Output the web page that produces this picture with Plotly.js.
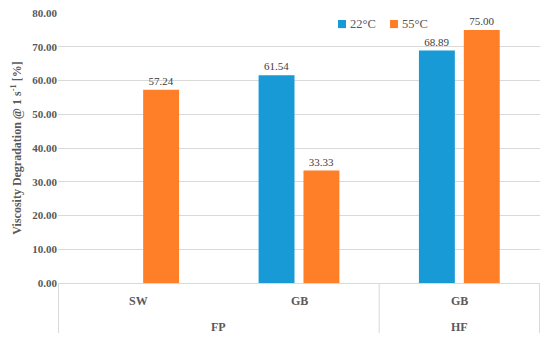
<!DOCTYPE html>
<html>
<head>
<meta charset="utf-8">
<script src="https://cdn.plot.ly/plotly-3.0.1.min.js"></script>
<style>html,body{margin:0;padding:0;background:#fff;}#chart{width:550px;height:349px;}</style>
</head>
<body>
<div id="chart"></div>
<script>
var groups = ['FP', 'FP', 'HF'];
var categories = ['SW', 'GB', 'GB'];
var series22 = [null, 61.54, 68.89];
var series55 = [57.24, 33.33, 75.00];
var seriesNames = ['22°C', '55°C'];
var seriesColors = ['#189ad6', '#fe7f27'];

var fontFam = '"Liberation Serif", "DejaVu Serif", serif';
var txtColor = '#595959';
var lineColor = '#d9d9d9';

var traces = [series22, series55].map(function (vals, i) {
  return {type: 'bar', name: seriesNames[i], x: [groups, categories], y: vals,
    marker: {color: seriesColors[i]}, texttemplate: '%{y:.2f}', textposition: 'outside',
    textfont: {family: fontFam, size: 11, color: '#404040'}, cliponaxis: false,
    showlegend: false};
});

var annotations = [];
var shapes = [];
// category labels (level 1)
categories.forEach(function (c, i) {
  annotations.push({xref: 'x', yref: 'paper', x: i, y: -0.067, text: '<b>' + c + '</b>',
    showarrow: false, font: {family: fontFam, size: 12, color: txtColor}, yanchor: 'middle'});
});
// group labels (level 2) and dividers
var start = 0;
for (var i = 1; i <= groups.length; i++) {
  if (i === groups.length || groups[i] !== groups[start]) {
    annotations.push({xref: 'x', yref: 'paper', x: (start + i - 1) / 2, y: -0.163,
      text: '<b>' + groups[start] + '</b>', showarrow: false,
      font: {family: fontFam, size: 12, color: txtColor}, yanchor: 'middle'});
    shapes.push({type: 'line', xref: 'x', yref: 'paper', x0: i - 0.5, x1: i - 0.5, y0: 0, y1: -0.185,
      line: {color: lineColor, width: 1}});
    start = i;
  }
}
shapes.push({type: 'line', xref: 'x', yref: 'paper', x0: -0.5, x1: -0.5, y0: 0, y1: -0.185,
  line: {color: lineColor, width: 1}});

// legend
var legX = [0.5809, 0.6888];
seriesNames.forEach(function (n, i) {
  shapes.push({type: 'rect', xref: 'paper', yref: 'paper', x0: legX[i], x1: legX[i] + 0.0166,
    y0: 0.944, y1: 0.974, fillcolor: seriesColors[i], line: {width: 0}});
  annotations.push({xref: 'paper', yref: 'paper', x: legX[i] + 0.021, y: 0.959, text: n,
    xanchor: 'left', yanchor: 'middle', showarrow: false,
    font: {family: fontFam, size: 12.5, color: txtColor}});
});

var layout = {
  width: 550, height: 349,
  margin: {l: 58, r: 10, t: 13, b: 66},
  paper_bgcolor: '#fff', plot_bgcolor: '#fff',
  font: {family: fontFam, color: txtColor, size: 11},
  barmode: 'group', bargap: 0.44, bargroupgap: 0.2,
  showlegend: false,
  xaxis: {type: 'multicategory', showdividers: false, showticklabels: false,
          showline: true, linecolor: lineColor, ticks: '', automargin: false, showgrid: false},
  yaxis: {range: [0, 80], dtick: 10, tickformat: '.2f', showgrid: true, gridcolor: lineColor,
          zeroline: false, ticks: '', automargin: false,
          tickfont: {family: fontFam, size: 11, color: txtColor, weight: 'bold'},
          title: {text: 'Viscosity Degradation @ 1 s<sup>-1</sup> [%]', standoff: 8,
                  font: {family: fontFam, size: 12, color: txtColor, weight: 'bold'}}},
  annotations: annotations,
  shapes: shapes
};
Plotly.newPlot('chart', traces, layout, {displayModeBar: false, staticPlot: true});
</script>
</body>
</html>
